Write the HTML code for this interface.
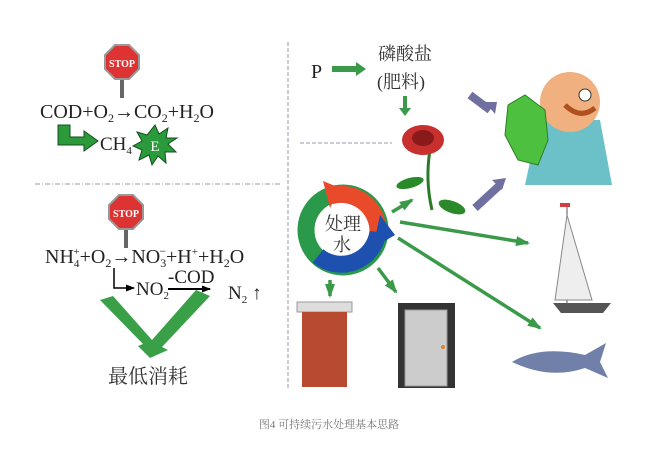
<!DOCTYPE html>
<html><head><meta charset="utf-8"><style>
body{margin:0;background:#fff}
svg text{font-family:"Liberation Serif","Noto Serif CJK SC",serif}
</style></head><body>
<svg width="659" height="446" viewBox="0 0 659 446" xmlns="http://www.w3.org/2000/svg">
<defs>
<marker id="ga" markerUnits="userSpaceOnUse" markerWidth="14" markerHeight="10" refX="12" refY="5" orient="auto"><path d="M0,0L14,5L0,10z" fill="#3a9a4a"/></marker>
<marker id="ka" markerUnits="userSpaceOnUse" markerWidth="9" markerHeight="7" refX="8" refY="3.5" orient="auto"><path d="M0,0L9,3.5L0,7z" fill="#000"/></marker>
</defs>
<line x1="288" y1="42" x2="288" y2="388" stroke="#99a" stroke-width="1" stroke-dasharray="4,2"/>
<line x1="35" y1="184" x2="280" y2="184" stroke="#99a" stroke-width="1" stroke-dasharray="5,2,1,2"/>
<line x1="300" y1="143" x2="392" y2="143" stroke="#99a" stroke-width="1" stroke-dasharray="4,2"/>
<g>
<rect x="120" y="74" width="4" height="24" fill="#666"/>
<polygon points="115,45 129,45 139,55 139,69 129,79 115,79 105,69 105,55" fill="#d33" stroke="#999" stroke-width="2"/>
<text x="122" y="67" font-size="10" fill="#fff" text-anchor="middle" font-family="Liberation Sans" font-weight="bold">STOP</text>
<rect x="124" y="224" width="4" height="24" fill="#666"/>
<polygon points="119,195 133,195 143,205 143,219 133,229 119,229 109,219 109,205" fill="#d33" stroke="#999" stroke-width="2"/>
<text x="126" y="217" font-size="10" fill="#fff" text-anchor="middle" font-family="Liberation Sans" font-weight="bold">STOP</text>
</g>
<text x="40" y="118" font-size="20" fill="#222">COD+O<tspan font-size="12" dy="4">2</tspan><tspan dy="-4">→CO</tspan><tspan font-size="12" dy="4">2</tspan><tspan dy="-4">+H</tspan><tspan font-size="12" dy="4">2</tspan><tspan dy="-4">O</tspan></text>
<path d="M58,125 h12 v12 h14 v-6 l14,10 l-14,10 v-6 h-26z" fill="#2a9a3a" stroke="#145020" stroke-width="1"/>
<text x="100" y="150" font-size="19" fill="#222">CH<tspan font-size="11" dy="4">4</tspan></text>
<polygon points="155,125 159,134 168,128 166,138 177,138 168,144 176,152 165,152 166,163 158,156 152,165 149,155 139,160 142,150 133,146 142,141 137,132 147,135" fill="#2a9a3a" stroke="#145020"/>
<text x="155" y="151" font-size="15" fill="#fff" text-anchor="middle">E</text>
<text x="45" y="263" font-size="20" fill="#222">NH<tspan font-size="11" dy="4">4</tspan><tspan font-size="11" dx="-6" dy="-12">+</tspan><tspan dy="8">+O</tspan><tspan font-size="12" dy="4">2</tspan><tspan dy="-4">→NO</tspan><tspan font-size="12" dy="4">3</tspan><tspan font-size="12" dx="-7" dy="-12">−</tspan><tspan dy="8">+H</tspan><tspan font-size="11" dy="-8">+</tspan><tspan dy="8">+H</tspan><tspan font-size="12" dy="4">2</tspan><tspan dy="-4">O</tspan></text>
<path d="M114,268 V288 H134" fill="none" stroke="#000" stroke-width="1.5" marker-end="url(#ka)"/>
<text x="136" y="295" font-size="19" fill="#222">NO<tspan font-size="11" dy="4">2</tspan></text>
<text x="168" y="283" font-size="19" fill="#222">-COD</text>
<line x1="168" y1="289" x2="210" y2="289" stroke="#000" stroke-width="2" marker-end="url(#ka)"/>
<text x="228" y="299" font-size="19" fill="#222">N<tspan font-size="11" dy="4">2</tspan><tspan dy="-4"> ↑</tspan></text>
<path d="M113,296 L152,340 L196,290 L210,296 L162,347 L168,350 L150,358 L138,346 L143,344 L100,300z" fill="#3aa048"/>
<text x="108" y="383" font-size="20" fill="#333" font-family="Noto Sans CJK SC,sans-serif">最低消耗</text>
<text x="311" y="78" font-size="20" fill="#222">P</text>
<path d="M332,66 h24 v-4 l10,7 l-10,7 v-4 h-24z" fill="#3a9a4a"/>
<text x="378" y="60" font-size="18" fill="#333" font-family="Noto Sans CJK SC,sans-serif">磷酸盐</text>
<text x="377" y="88" font-size="18" fill="#333" font-family="Noto Sans CJK SC,sans-serif">(肥料)</text>
<path d="M403,96 v12 h-4 l6,8 l6,-8 h-4 v-12z" fill="#3a9a4a"/>
<path d="M430,150 Q425,180 432,210" stroke="#2a7a2a" stroke-width="3" fill="none"/>
<ellipse cx="410" cy="183" rx="14" ry="5" fill="#2a8a2a" transform="rotate(-15 410 183)"/>
<ellipse cx="452" cy="207" rx="14" ry="6" fill="#2a8a2a" transform="rotate(20 452 207)"/>
<ellipse cx="423" cy="140" rx="21" ry="15" fill="#c83030"/>
<ellipse cx="423" cy="138" rx="11" ry="8" fill="#8a1a1a"/>
<path d="M540,115 Q560,120 600,120 L612,185 L525,185z" fill="#6cc0c8"/>
<ellipse cx="570" cy="102" rx="30" ry="30" fill="#f0b080"/>
<path d="M565,105 Q580,120 595,108" stroke="#b05020" stroke-width="5" fill="none"/>
<circle cx="585" cy="95" r="6" fill="#fff" stroke="#333"/>
<polygon points="508,105 525,95 545,110 548,140 538,165 518,160 505,135" fill="#4ec040" stroke="#2a8020"/>
<path d="M470,95 L490,110" stroke="#7070a0" stroke-width="8"/><path d="M485,102 l12,0 l-2,12z" fill="#7070a0"/>
<path d="M475,208 L500,185" stroke="#7070a0" stroke-width="8"/><path d="M492,180 l14,-2 l-4,12z" fill="#7070a0"/>
<circle cx="343" cy="230" r="37" fill="none" stroke="#2a9a4a" stroke-width="17"/>
<path d="M330,196 A37,37 0 0 1 378,232" fill="none" stroke="#e84a2a" stroke-width="17"/>
<polygon points="323,181 340,188 330,208" fill="#e84a2a"/>
<path d="M378,232 A37,37 0 0 1 318,256" fill="none" stroke="#1e50b0" stroke-width="17"/>
<polygon points="380,215 395,235 373,248" fill="#1e50b0"/>
<text x="343" y="230" font-size="18" fill="#333" text-anchor="middle" font-family="Noto Sans CJK SC,sans-serif">处理</text>
<text x="342" y="251" font-size="18" fill="#333" text-anchor="middle" font-family="Noto Sans CJK SC,sans-serif">水</text>
<g stroke="#3a9a4a" stroke-width="3.5" marker-end="url(#ga)">
<line x1="392" y1="212" x2="412" y2="200"/>
<line x1="400" y1="222" x2="528" y2="243"/>
<line x1="398" y1="238" x2="540" y2="328"/>
<line x1="330" y1="280" x2="330" y2="296"/>
<line x1="378" y1="268" x2="396" y2="292"/>
</g>
<rect x="297" y="302" width="55" height="10" fill="#ddd" stroke="#999"/>
<rect x="302" y="312" width="45" height="75" fill="#b84a30"/>
<rect x="398" y="303" width="57" height="85" fill="#333"/>
<rect x="405" y="310" width="42" height="76" fill="#ccc" stroke="#999"/>
<circle cx="443" cy="347" r="2" fill="#e08030"/>
<line x1="567" y1="203" x2="567" y2="305" stroke="#555"/>
<path d="M567,215 L592,300 L555,300z" fill="#eee" stroke="#888"/>
<path d="M553,303 h58 l-8,10 h-42z" fill="#555"/>
<rect x="560" y="203" width="10" height="4" fill="#d04040"/>
<path d="M512,362 Q540,345 585,355 L606,343 L600,362 L608,378 L585,368 Q550,380 512,362z" fill="#7080a8"/>
<text x="329" y="428" font-size="11" fill="#777" text-anchor="middle" font-family="Liberation Sans,Noto Sans CJK SC,sans-serif">图4 可持续污水处理基本思路</text>
</svg>
</body></html>
